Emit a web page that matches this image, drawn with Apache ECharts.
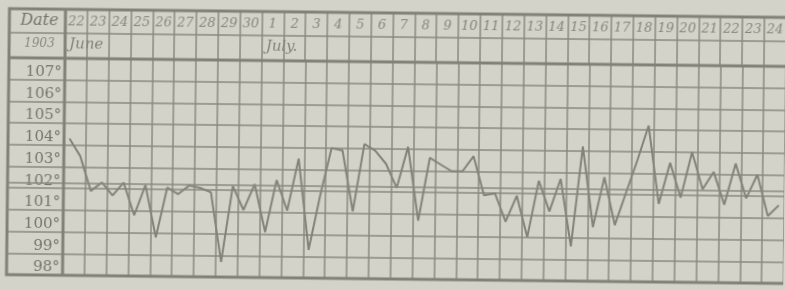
<!DOCTYPE html>
<html>
<head>
<meta charset="utf-8">
<script src="https://cdn.jsdelivr.net/npm/echarts@6/dist/echarts.min.js"></script>
<style>
  html, body { margin: 0; padding: 0; background: #d4d3ca; overflow: hidden; }
  /* the scan is slightly tilted, right side lower */
  #chart { width: 785px; height: 290px; transform: rotate(0.65deg); transform-origin: 50% 50%; }
</style>
</head>
<body>
<div id="chart"></div>
<script>
// temperature chart, 22 June - 24 July 1903, morning and evening readings
const dates = ['22', '23', '24', '25', '26', '27', '28', '29', '30',
  '1', '2', '3', '4', '5', '6', '7', '8', '9', '10', '11', '12', '13', '14', '15', '16',
  '17', '18', '19', '20', '21', '22', '23', '24'];
const months = ['June', 'July.'];
const year = '1903';
// two readings per day (am, pm)
const temps = [
  104.3, 103.5,  // 22
  101.9, 102.3,  // 23
  101.7, 102.3,  // 24
  100.8, 102.2,  // 25
  99.8, 102.1,   // 26
  101.8, 102.2,  // 27
  102.1, 101.9,  // 28
  98.7, 102.2,   // 29
  101.1, 102.3,  // 30
  100.1, 102.5,  // 1
  101.1, 103.5,  // 2
  99.3, 101.8,   // 3
  104.0, 103.9,  // 4
  101.1, 104.2,  // 5
  103.9, 103.3,  // 6
  102.2, 104.1,  // 7
  100.7, 103.6,  // 8
  103.3, 103.0,  // 9
  103.0, 103.7,  // 10
  101.9, 102.0,  // 11
  100.7, 101.9,  // 12
  100.0, 102.6,  // 13
  101.2, 102.7,  // 14
  99.6, 104.2,   // 15
  100.5, 102.8,  // 16
  100.6, 102.1,  // 17
  103.6, 105.2,  // 18
  101.6, 103.5,  // 19
  101.9, 104.0,  // 20
  102.3, 103.1,  // 21
  101.6, 103.5,  // 22
  101.9, 103.0,  // 23
  101.1, 101.6   // 24
];
const slots = dates.flatMap((d, i) => [i + ':' + d + ' am', i + ':' + d + ' pm']);
const tempMin = 98;
const tempMax = 108;
const markedLine = 102.27; // the doubled rule across the chart

// layout
const FRAME_L = 8, FRAME_T = 13, FRAME_B = 279;
const PLOT_L = 64, PLOT_T = 62, ROW1_B = 37;
const COL_W = 21.85;
const PLOT_W = dates.length * COL_W;
const PLOT_H = FRAME_B - PLOT_T;

const paper = '#d4d3ca';
const ink = '#8b8a7e';
const inkDark = '#828176';
const textInk = '#76756a';
const thin = { color: ink, width: 1.5 };

const monthStarts = [0, dates.indexOf('1')];

const chart = echarts.init(document.getElementById('chart'), null, { renderer: 'canvas' });

const option = {
  backgroundColor: paper,
  animation: false,
  grid: [
    { left: PLOT_L, top: PLOT_T, width: PLOT_W, height: PLOT_H },           // plot
    { left: FRAME_L, top: PLOT_T, width: PLOT_L - FRAME_L, height: PLOT_H }, // degree column
    { left: PLOT_L, top: FRAME_T, width: PLOT_W, height: PLOT_T - FRAME_T }  // header
  ],
  xAxis: [
    {
      gridIndex: 0, type: 'category', data: dates, boundaryGap: true,
      axisLine: { show: false }, axisTick: { show: false }, axisLabel: { show: false },
      splitLine: { show: true, lineStyle: thin }
    },
    { gridIndex: 0, type: 'category', data: slots, boundaryGap: true, show: false },
    { gridIndex: 1, type: 'value', min: 0, max: 1, show: false },
    {
      gridIndex: 2, type: 'category', data: dates, boundaryGap: true, position: 'top',
      axisLine: { show: false }, axisTick: { show: false },
      splitLine: { show: true, lineStyle: thin },
      axisLabel: {
        inside: true, margin: 6, interval: 0,
        fontFamily: 'DejaVu Serif', fontStyle: 'italic', fontSize: 13, color: '#878679'
      }
    }
  ],
  yAxis: [
    {
      gridIndex: 0, type: 'value', min: tempMin, max: tempMax, interval: 1,
      axisLine: { show: false }, axisTick: { show: false },
      splitLine: { show: true, lineStyle: thin },
      axisLabel: {
        margin: 3, align: 'right', verticalAlign: 'bottom',
        fontFamily: 'DejaVu Serif', fontSize: 15, color: textInk,
        formatter: v => (v >= tempMax ? '' : v + '°')
      }
    },
    {
      gridIndex: 1, type: 'value', min: tempMin, max: tempMax, interval: 1,
      axisLine: { show: false }, axisTick: { show: false }, axisLabel: { show: false },
      splitLine: { show: true, lineStyle: thin }
    },
    { gridIndex: 2, type: 'value', show: false }
  ],
  series: [
    {
      type: 'line', xAxisIndex: 1, yAxisIndex: 0, data: temps,
      symbol: 'none', lineStyle: { color: '#848378', width: 2 },
      markLine: {
        silent: true, symbol: 'none', label: { show: false },
        lineStyle: { color: ink, width: 1.5, type: 'solid' },
        data: [{ yAxis: markedLine }]
      }
    },
    {
      type: 'line', xAxisIndex: 2, yAxisIndex: 1, data: [],
      markLine: {
        silent: true, symbol: 'none', label: { show: false },
        lineStyle: { color: ink, width: 1.5, type: 'solid' },
        data: [{ yAxis: markedLine }]
      }
    }
  ],
  graphic: [
    {
      type: 'rect', z: 10, silent: true,
      shape: { x: FRAME_L, y: FRAME_T, width: 790 - FRAME_L, height: FRAME_B - FRAME_T },
      style: { fill: 'none', stroke: inkDark, lineWidth: 3 }
    },
    {
      type: 'line', z: 10, silent: true,
      shape: { x1: FRAME_L, y1: ROW1_B, x2: 790, y2: ROW1_B },
      style: { stroke: ink, lineWidth: 1.5 }
    },
    {
      type: 'line', z: 10, silent: true,
      shape: { x1: FRAME_L, y1: PLOT_T, x2: 790, y2: PLOT_T },
      style: { stroke: inkDark, lineWidth: 3 }
    },
    {
      type: 'line', z: 10, silent: true,
      shape: { x1: PLOT_L, y1: FRAME_T, x2: PLOT_L, y2: FRAME_B },
      style: { stroke: inkDark, lineWidth: 3 }
    },
    {
      type: 'text', z: 11, silent: true, x: 19, y: 25,
      style: { text: 'Date', fontFamily: 'DejaVu Serif', fontStyle: 'italic', fontSize: 16, fill: textInk, verticalAlign: 'middle' }
    },
    {
      type: 'text', z: 11, silent: true, x: 23, y: 48,
      style: { text: year, fontFamily: 'DejaVu Serif', fontStyle: 'italic', fontSize: 12, fill: '#8a897d', verticalAlign: 'middle' }
    }
  ].concat(months.map((m, k) => ({
    type: 'text', z: 11, silent: true,
    x: PLOT_L + monthStarts[k] * COL_W + 4, y: 48,
    style: { text: m, fontFamily: 'DejaVu Serif', fontStyle: 'italic', fontSize: 15, fill: '#848377', verticalAlign: 'middle' }
  })))
};

chart.setOption(option);
</script>
</body>
</html>
